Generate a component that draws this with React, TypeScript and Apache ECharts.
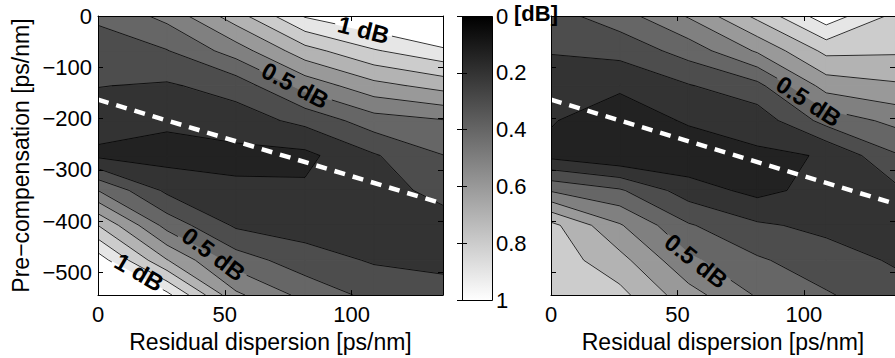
import React, { useEffect, useRef } from "react";
import * as echarts from "echarts";

// grid nodes of the measured loss maps
const RESIDUAL_DISPERSION = [0, 27.2, 54.4, 81.6, 108.8, 136];
const PRE_COMPENSATION = [0, -68, -136, -204, -272, -340, -408, -476, -544];

// penalty [dB], rows = PRE_COMPENSATION, columns = RESIDUAL_DISPERSION
const LOSS_LEFT = [
  [0.415, 0.53, 0.756, 1.01, 1.094, 1.25],
  [0.359, 0.395, 0.547, 0.76, 0.89, 0.974],
  [0.303, 0.288, 0.34, 0.535, 0.667, 0.736],
  [0.244, 0.219, 0.253, 0.326, 0.454, 0.493],
  [0.18, 0.16, 0.17, 0.175, 0.29, 0.398],
  [0.5, 0.279, 0.221, 0.215, 0.26, 0.33],
  [0.8, 0.463, 0.285, 0.255, 0.23, 0.26],
  [1.054, 0.705, 0.45, 0.345, 0.29, 0.28],
  [1.3, 1.03, 0.62, 0.47, 0.37, 0.33],
];

const LOSS_RIGHT = [
  [0.36, 0.456, 0.61, 0.826, 1.06, 0.874],
  [0.305, 0.331, 0.442, 0.613, 0.826, 0.814],
  [0.256, 0.22, 0.293, 0.37, 0.642, 0.685],
  [0.208, 0.13, 0.214, 0.24, 0.436, 0.527],
  [0.17, 0.11, 0.12, 0.185, 0.205, 0.389],
  [0.49, 0.413, 0.25, 0.17, 0.24, 0.275],
  [0.83, 0.61, 0.41, 0.315, 0.275, 0.246],
  [0.86, 0.734, 0.52, 0.413, 0.345, 0.289],
  [0.87, 0.83, 0.64, 0.49, 0.41, 0.34],
];

const CONTOUR_LEVELS = [0.1, 0.2, 0.3, 0.4, 0.5, 0.6, 0.7, 0.8, 0.9, 1.0];

const X_TICKS = [0, 50, 100];
const Y_TICKS = [0, -100, -200, -300, -400, -500];
const CBAR_TICKS = [0, 0.2, 0.4, 0.6, 0.8, 1];

// optimum pre-compensation line
const OPTIMUM_X = [0, 136];
const OPTIMUM_Y = [-163, -366];

// contour labels
const LABEL_TEXT_LEFT = ["1 dB", "0.5 dB", "0.5 dB", "1 dB"];
const LABEL_LEVEL_LEFT = [1.0, 0.5, 0.5, 1.0];
const LABEL_X_LEFT = [104.7, 77.8, 45.6, 16.3];
const LABEL_Y_LEFT = [-26.8, -135.4, -464.2, -499.4];
const LABEL_ANGLE_LEFT = [-14, -28, -37, -30];

const LABEL_TEXT_RIGHT = ["0.5 dB", "0.5 dB"];
const LABEL_LEVEL_RIGHT = [0.5, 0.5];
const LABEL_X_RIGHT = [101.9, 57.4];
const LABEL_Y_RIGHT = [-166.3, -477.5];
const LABEL_ANGLE_RIGHT = [-33, -38];

// styles
const BAND_FILLS = [
  "#0d0d0d", "#222222", "#333333", "#4d4d4d", "#666666", "#808080",
  "#999999", "#b3b3b3", "#cccccc", "#e6e6e6", "#ffffff",
];
const FONT = "Liberation Sans";
const LABEL_FONT_SIZE = 24;

type P = { x: number; y: number; v: number };
type LabelSet = { texts: string[]; levels: number[]; xs: number[]; ys: number[]; angles: number[] };

let measureCtx: CanvasRenderingContext2D | null = null;
function textWidth(t: string): number {
  if (!measureCtx) measureCtx = document.createElement("canvas").getContext("2d");
  if (!measureCtx) return t.length * LABEL_FONT_SIZE * 0.55;
  measureCtx.font = `bold ${LABEL_FONT_SIZE}px "${FONT}"`;
  return measureCtx.measureText(t).width;
}

function clipPoly(poly: P[], level: number, keepAbove: boolean): P[] {
  const out: P[] = [];
  const n = poly.length;
  for (let i = 0; i < n; i++) {
    const a = poly[i];
    const b = poly[(i + 1) % n];
    const ain = keepAbove ? a.v >= level : a.v <= level;
    const bin = keepAbove ? b.v >= level : b.v <= level;
    if (ain) out.push(a);
    if (ain !== bin) {
      const t = (level - a.v) / (b.v - a.v);
      out.push({ x: a.x + t * (b.x - a.x), y: a.y + t * (b.y - a.y), v: level });
    }
  }
  return out;
}

function cellCorners(api: any, Z: number[][], i: number, j: number): P[] {
  const p = (ci: number, rj: number): P => {
    const c = api.coord([RESIDUAL_DISPERSION[ci], PRE_COMPENSATION[rj]]);
    return { x: c[0], y: c[1], v: Z[rj][ci] };
  };
  return [p(i, j), p(i + 1, j), p(i + 1, j + 1), p(i, j + 1)];
}

function makeFillRenderer(Z: number[][]) {
  return (params: any, api: any) => {
    const i = api.value(2);
    const j = api.value(3);
    const corners = cellCorners(api, Z, i, j);
    const bounds = [-Infinity, ...CONTOUR_LEVELS, Infinity];
    const children: any[] = [];
    for (let k = 0; k < bounds.length - 1; k++) {
      let poly = corners;
      if (isFinite(bounds[k])) poly = clipPoly(poly, bounds[k], true);
      if (poly.length >= 3 && isFinite(bounds[k + 1])) poly = clipPoly(poly, bounds[k + 1], false);
      if (poly.length >= 3) {
        children.push({
          type: "polygon",
          shape: { points: poly.map((q) => [q.x, q.y]) },
          style: { fill: BAND_FILLS[k], stroke: BAND_FILLS[k], lineWidth: 1.3 },
        });
      }
    }
    return { type: "group", children };
  };
}

// remove the part of segment a-b that lies under a rotated label box
function cutSegment(
  a: number[], b: number[], cx: number, cy: number, ang: number, hw: number, hh: number
): number[][][] {
  const c = Math.cos(ang), s = Math.sin(ang);
  const loc = (p: number[]) => {
    const dx = p[0] - cx, dy = p[1] - cy;
    return [dx * c - dy * s, dx * s + dy * c];
  };
  const p0 = loc(a), p1 = loc(b);
  const du = p1[0] - p0[0], dv = p1[1] - p0[1];
  let t0 = 0, t1 = 1;
  const tests: [number, number][] = [
    [-du, p0[0] + hw], [du, hw - p0[0]], [-dv, p0[1] + hh], [dv, hh - p0[1]],
  ];
  for (const [pp, q] of tests) {
    if (pp === 0) {
      if (q < 0) return [[a, b]];
    } else {
      const r = q / pp;
      if (pp < 0) { if (r > t1) return [[a, b]]; if (r > t0) t0 = r; }
      else { if (r < t0) return [[a, b]]; if (r < t1) t1 = r; }
    }
  }
  const at = (t: number) => [a[0] + t * (b[0] - a[0]), a[1] + t * (b[1] - a[1])];
  const out: number[][][] = [];
  if (t0 > 1e-6) out.push([a, at(t0)]);
  if (t1 < 1 - 1e-6) out.push([at(t1), b]);
  return out;
}

function makeLineRenderer(Z: number[][], labels: LabelSet) {
  return (params: any, api: any) => {
    const i = api.value(2);
    const j = api.value(3);
    const corners = cellCorners(api, Z, i, j);
    const boxes = labels.texts.map((t, k) => {
      const c = api.coord([labels.xs[k], labels.ys[k]]);
      return {
        level: labels.levels[k], cx: c[0], cy: c[1],
        ang: (labels.angles[k] * Math.PI) / 180,
        hw: textWidth(t) / 2 + 3, hh: 10,
      };
    });
    const children: any[] = [];
    CONTOUR_LEVELS.forEach((level) => {
      const cross: { x: number; y: number; exit: boolean }[] = [];
      for (let e = 0; e < 4; e++) {
        const a = corners[e];
        const b = corners[(e + 1) % 4];
        const aa = a.v >= level;
        const ba = b.v >= level;
        if (aa !== ba) {
          const t = (level - a.v) / (b.v - a.v);
          cross.push({ x: a.x + t * (b.x - a.x), y: a.y + t * (b.y - a.y), exit: aa });
        }
      }
      const n = cross.length;
      for (let c = 0; c < n; c++) {
        if (!cross[c].exit) continue;
        for (let s = 1; s < n; s++) {
          const d = cross[(c + s) % n];
          if (!d.exit) {
            let pieces: number[][][] = [[[cross[c].x, cross[c].y], [d.x, d.y]]];
            boxes.forEach((bx) => {
              if (Math.abs(bx.level - level) > 1e-9) return;
              const next: number[][][] = [];
              pieces.forEach((pc) => {
                next.push(...cutSegment(pc[0], pc[1], bx.cx, bx.cy, bx.ang, bx.hw, bx.hh));
              });
              pieces = next;
            });
            pieces.forEach((pc) => {
              children.push({
                type: "line",
                shape: { x1: pc[0][0], y1: pc[0][1], x2: pc[1][0], y2: pc[1][1] },
                style: { stroke: "#000", lineWidth: 0.8 },
              });
            });
            break;
          }
        }
      }
    });
    return { type: "group", children };
  };
}

function makeLabelRenderer(labels: LabelSet) {
  return (params: any, api: any) => {
    const k = api.value(2);
    const c = api.coord([api.value(0), api.value(1)]);
    return {
      type: "text",
      x: c[0],
      y: c[1],
      rotation: (labels.angles[k] * Math.PI) / 180,
      style: {
        text: labels.texts[k],
        fill: "#000",
        fontFamily: FONT,
        fontWeight: "bold",
        fontSize: LABEL_FONT_SIZE,
        align: "center",
        verticalAlign: "middle",
      },
    };
  };
}

function cells() {
  const out: number[][] = [];
  for (let j = 0; j < PRE_COMPENSATION.length - 1; j++)
    for (let i = 0; i < RESIDUAL_DISPERSION.length - 1; i++)
      out.push([RESIDUAL_DISPERSION[i], PRE_COMPENSATION[j], i, j]);
  return out;
}

const tickStyle = (values: number[]) => ({
  show: true,
  inside: true,
  length: 5,
  customValues: values,
  lineStyle: { color: "#000", width: 1 },
});

const axisLineStyle = { show: true, onZero: false, lineStyle: { color: "#000", width: 1 } };
const tickText = { color: "#000", fontFamily: FONT, fontSize: 22 };
const nameText = { color: "#000", fontFamily: FONT, fontSize: 23 };

function panelAxes(gridIndex: number, showYLabels: boolean) {
  const x = [
    {
      type: "value", gridIndex, position: "bottom", min: 0, max: 136, z: 10,
      axisLine: axisLineStyle, axisTick: tickStyle(X_TICKS), splitLine: { show: false },
      axisLabel: { ...tickText, margin: 8, customValues: X_TICKS },
      name: "Residual dispersion [ps/nm]", nameLocation: "middle", nameGap: 31,
      nameTextStyle: { ...nameText },
    },
    {
      type: "value", gridIndex, position: "top", min: 0, max: 136, z: 10,
      axisLine: axisLineStyle, axisTick: tickStyle(X_TICKS), splitLine: { show: false },
      axisLabel: { show: false },
    },
  ];
  const y = [
    {
      type: "value", gridIndex, position: "left", min: -544, max: 0, z: 10,
      axisLine: axisLineStyle, axisTick: tickStyle(Y_TICKS), splitLine: { show: false },
      axisLabel: showYLabels
        ? {
            ...tickText, margin: 6, customValues: Y_TICKS,
            formatter: (v: number) => (v === 0 ? "0" : "\u2212" + Math.abs(v)),
          }
        : { show: false },
      name: showYLabels ? "Pre\u2212compensation [ps/nm]" : "",
      nameLocation: "middle", nameGap: 66,
      nameTextStyle: { ...nameText },
    },
    {
      type: "value", gridIndex, position: "right", min: -544, max: 0, z: 10,
      axisLine: axisLineStyle, axisTick: tickStyle(Y_TICKS), splitLine: { show: false },
      axisLabel: { show: false },
    },
  ];
  return { x, y };
}

function buildOption() {
  const L = panelAxes(0, true);
  const R = panelAxes(1, false);
  const xAxis: any[] = [
    ...L.x, ...R.x,
    { type: "value", gridIndex: 2, min: 0, max: 1, show: false },
  ];
  const yAxis: any[] = [
    ...L.y, ...R.y,
    {
      type: "value", gridIndex: 2, position: "right", min: 0, max: 1, inverse: true, z: 10,
      axisLine: { show: false }, axisTick: tickStyle(CBAR_TICKS), splitLine: { show: false },
      axisLabel: {
        ...tickText, margin: 4, customValues: CBAR_TICKS,
        formatter: (v: number) => (v === 0 ? "0" : v === 1 ? "1" : v.toFixed(1)),
      },
    },
    {
      type: "value", gridIndex: 2, position: "left", min: 0, max: 1, inverse: true, z: 10,
      axisLine: { show: false }, axisTick: tickStyle(CBAR_TICKS), splitLine: { show: false },
      axisLabel: { show: false },
    },
  ];

  const leftLabels: LabelSet = {
    texts: LABEL_TEXT_LEFT, levels: LABEL_LEVEL_LEFT, xs: LABEL_X_LEFT, ys: LABEL_Y_LEFT, angles: LABEL_ANGLE_LEFT,
  };
  const rightLabels: LabelSet = {
    texts: LABEL_TEXT_RIGHT, levels: LABEL_LEVEL_RIGHT, xs: LABEL_X_RIGHT, ys: LABEL_Y_RIGHT, angles: LABEL_ANGLE_RIGHT,
  };

  const panelSeries = (xi: number, yi: number, Z: number[][], labels: LabelSet) => [
    {
      type: "custom", xAxisIndex: xi, yAxisIndex: yi, silent: true, z: 2, clip: true,
      encode: { x: 0, y: 1 }, data: cells(), renderItem: makeFillRenderer(Z),
    },
    {
      type: "custom", xAxisIndex: xi, yAxisIndex: yi, silent: true, z: 3, clip: true,
      encode: { x: 0, y: 1 }, data: cells(), renderItem: makeLineRenderer(Z, labels),
    },
    {
      type: "line", xAxisIndex: xi, yAxisIndex: yi, silent: true, z: 4,
      showSymbol: false, symbol: "none",
      data: OPTIMUM_X.map((x, k) => [x, OPTIMUM_Y[k]]),
      lineStyle: { color: "#fff", width: 4.5, type: [11, 8] },
    },
    {
      type: "custom", xAxisIndex: xi, yAxisIndex: yi, silent: true, z: 5,
      encode: { x: 0, y: 1 },
      data: labels.texts.map((t, k) => [labels.xs[k], labels.ys[k], k]),
      renderItem: makeLabelRenderer(labels),
    },
  ];

  return {
    animation: false,
    backgroundColor: "#fff",
    grid: [
      { left: 98, top: 16, width: 345, height: 284 },
      { left: 551, top: 16, width: 354, height: 284 },
      { left: 462, top: 16, width: 30, height: 284 },
    ],
    xAxis,
    yAxis,
    graphic: [
      {
        type: "rect", left: 462, top: 16, z: 1,
        shape: { width: 30, height: 284 },
        style: {
          fill: new echarts.graphic.LinearGradient(0, 0, 0, 1, [
            { offset: 0, color: "#000" },
            { offset: 1, color: "#fff" },
          ]),
          stroke: "#000",
          lineWidth: 1,
        },
      },
      {
        type: "text", left: 514, top: 2, z: 20,
        style: { text: "[dB]", fill: "#000", font: `bold 22px "${FONT}"` },
      },
    ],
    series: [
      ...panelSeries(0, 0, LOSS_LEFT, leftLabels),
      ...panelSeries(2, 2, LOSS_RIGHT, rightLabels),
    ],
  };
}

export default function App() {
  const ref = useRef<HTMLDivElement>(null);
  useEffect(() => {
    document.body.style.margin = "0";
    const chart = echarts.init(ref.current!, null, { renderer: "svg" });
    chart.setOption(buildOption() as any);
    return () => chart.dispose();
  }, []);
  return (
    <div
      ref={ref}
      style={{ width: 895, height: 358, position: "absolute", left: 0, top: 0, background: "#fff" }}
    />
  );
}
